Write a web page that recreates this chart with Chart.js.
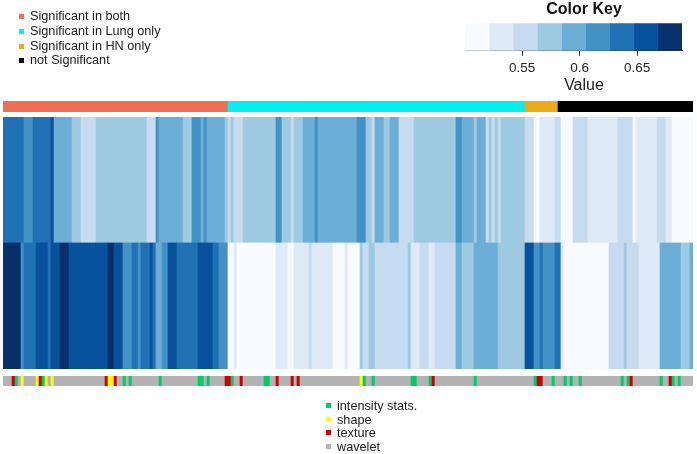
<!DOCTYPE html>
<html>
<head>
<meta charset="utf-8">
<title>Heatmap</title>
<script src="https://cdn.jsdelivr.net/npm/chart.js@4"></script>
<style>
    html, body { margin: 0; padding: 0; background: #fff; }
    body { position: relative; width: 697px; height: 454px; overflow: hidden; font-family: "Liberation Sans", Arial, sans-serif; color: #1a1a1a; }
    canvas { position: absolute; filter: blur(0.4px); }
    #group-bar { left: 3px; top: 101px; }
    #heatmap { left: 3px; top: 117px; }
    #class-bar { left: 3px; top: 376px; }
    #key { left: 445px; top: 0; }
    .legend { position: absolute; font-size: 12.7px; white-space: nowrap; filter: blur(0.3px); }
    .legend div { position: relative; height: 14.8px; line-height: 15px; }
    .legend i { position: absolute; width: 5px; height: 5px; top: 5px; }
    #legend-top { left: 30px; top: 9px; }
    #legend-top i { left: -11px; }
    #legend-bottom { left: 337px; top: 399px; }
    #legend-bottom div { height: 13.6px; }
    #legend-bottom i { left: -11px; top: 4px; }
</style>
</head>
<body>
<canvas id="group-bar"></canvas>
<canvas id="heatmap"></canvas>
<canvas id="class-bar"></canvas>
<canvas id="key"></canvas>
<div class="legend" id="legend-top"></div>
<div class="legend" id="legend-bottom"></div>

<script>
// Significance groups, in column order
const groupNames = ['Significant in both', 'Significant in Lung only', 'Significant in HN only', 'not Significant'];
const groupCounts = [75, 99, 11, 45];
const groupColors = ['#f06f55', '#00f0f0', '#ebab16', '#000000'];

// Heatmap values, 230 columns, ten per line
const topRow = [
    .64, .64, .64, .64, .64, .64, .64, .62, .62, .62,
    .64, .64, .64, .64, .64, .64, .66, .59, .59, .59,
    .59, .59, .59, .57, .57, .57, .55, .55, .55, .55,
    .55, .57, .57, .57, .57, .57, .57, .57, .57, .57,
    .57, .57, .57, .57, .57, .57, .57, .57, .55, .55,
    .55, .62, .59, .59, .59, .59, .59, .59, .59, .59,
    .57, .57, .57, .62, .62, .62, .59, .62, .59, .59,
    .59, .59, .59, .59, .57, .55, .57, .55, .55, .55,
    .57, .57, .57, .57, .57, .57, .57, .57, .57, .57,
    .57, .62, .62, .57, .57, .57, .55, .57, .57, .57,
    .59, .59, .59, .59, .62, .59, .59, .59, .59, .59,
    .59, .59, .59, .59, .59, .59, .59, .59, .62, .62,
    .62, .57, .57, .55, .59, .59, .59, .57, .57, .59,
    .59, .59, .55, .55, .55, .55, .55, .57, .57, .57,
    .57, .57, .57, .57, .57, .57, .57, .57, .57, .57,
    .57, .62, .62, .59, .59, .59, .59, .57, .59, .59,
    .59, .55, .57, .55, .57, .55, .57, .57, .57, .57,
    .57, .57, .57, .57, .55, .55, .55, .51, .51, .53,
    .53, .53, .53, .53, .55, .55, .51, .51, .51, .51,
    .55, .55, .55, .55, .55, .53, .53, .53, .53, .53,
    .53, .53, .53, .53, .53, .55, .55, .55, .55, .55,
    .51, .53, .53, .53, .53, .53, .53, .53, .55, .55,
    .55, .53, .53, .51, .51, .51, .51, .51, .51, .51
];
const bottomRow = [
    .68, .68, .68, .68, .68, .68, .62, .64, .64, .64,
    .64, .66, .66, .66, .66, .64, .66, .66, .66, .68,
    .68, .68, .66, .66, .66, .66, .66, .66, .66, .66,
    .66, .66, .66, .66, .66, .68, .68, .66, .66, .66,
    .62, .62, .62, .64, .64, .62, .64, .64, .64, .66,
    .64, .59, .59, .62, .62, .66, .66, .66, .64, .64,
    .64, .64, .64, .64, .64, .66, .66, .66, .66, .66,
    .64, .64, .62, .62, .62, .51, .51, .53, .51, .51,
    .51, .51, .51, .51, .51, .51, .51, .51, .51, .51,
    .51, .53, .53, .53, .53, .51, .51, .53, .53, .53,
    .53, .53, .55, .53, .53, .53, .53, .53, .53, .53,
    .51, .51, .51, .51, .53, .51, .51, .51, .51, .57,
    .55, .55, .57, .57, .55, .55, .55, .55, .55, .55,
    .55, .55, .55, .55, .55, .57, .53, .53, .53, .55,
    .55, .55, .53, .53, .55, .55, .55, .55, .55, .55,
    .55, .59, .59, .57, .57, .57, .57, .59, .59, .59,
    .59, .59, .59, .59, .59, .57, .57, .57, .57, .57,
    .57, .57, .57, .57, .66, .66, .66, .62, .62, .64,
    .62, .62, .62, .62, .64, .64, .53, .51, .51, .51,
    .51, .51, .51, .51, .51, .51, .51, .51, .51, .51,
    .51, .51, .55, .55, .55, .55, .55, .57, .55, .55,
    .55, .55, .53, .53, .53, .53, .53, .53, .53, .59,
    .59, .59, .59, .59, .59, .59, .57, .57, .57, .59
];

// Feature class of every column: I intensity stats, S shape, T texture, W wavelet
const featureClass = [
    'W','W','W','T','I','W','S','W','W','W',
    'W','S','T','I','S','W','S','W','W','W',
    'W','W','W','W','W','W','W','W','W','W',
    'W','W','W','W','T','S','S','T','W','W',
    'I','W','I','W','W','W','W','W','W','W',
    'W','W','I','W','W','W','W','W','W','W',
    'W','W','W','W','W','I','I','W','I','W',
    'W','W','W','W','T','T','I','W','W','T',
    'W','W','W','W','W','W','W','I','I','W',
    'W','T','W','W','W','W','T','W','T','W',
    'W','W','W','W','W','W','W','W','W','W',
    'W','W','W','W','W','W','W','W','W','S',
    'I','W','W','I','W','W','W','W','W','W',
    'W','W','W','W','W','W','I','I','W','W',
    'W','W','I','T','W','W','W','W','W','W',
    'W','W','W','W','W','W','W','I','W','W',
    'W','W','W','W','W','W','W','W','W','W',
    'W','W','W','W','W','W','W','I','T','T',
    'W','W','W','I','W','W','W','I','W','I',
    'W','W','I','W','W','W','W','W','W','W',
    'W','W','W','W','W','W','I','W','I','T',
    'W','W','W','W','W','W','W','W','W','I',
    'W','W','T','I','W','I','W','W','W','W'
];
const classCodes = ['I', 'S', 'T', 'W'];
const classNames = ['intensity stats.', 'shape', 'texture', 'wavelet'];
const classColors = ['#00cc66', '#ffff00', '#cc0000', '#b3b3b3'];

// Colour key
const keyBreaks = [.5004, .5214, .5423, .5633, .5843, .6052, .6262, .6472, .6681, .689];
const keyColors = ['#f7fbff', '#deebf7', '#c6dbef', '#9ecae1', '#6baed6', '#4292c6', '#2171b5', '#08519c', '#08306b'];
const keyTicks = [.55, .6, .65];

const columns = topRow.map((_, i) => i + 1);
const fontName = '"Liberation Sans", Arial, sans-serif';

// Same colour bins as the key
function valueColor(value) {
    for (let i = 0; i < keyColors.length; i++) {
        if (value < keyBreaks[i + 1]) return keyColors[i];
    }
    return keyColors[keyColors.length - 1];
}

function groupColumnColors() {
    const colors = [];
    groupCounts.forEach((count, g) => {
        for (let i = 0; i < count; i++) colors.push(groupColors[g]);
    });
    return colors;
}

// Strip of columns with all axes hidden, each dataset is one row
function createStrip(id, width, height, rowColors) {
    const canvas = document.getElementById(id);
    canvas.style.width = width + 'px';
    canvas.style.height = height + 'px';
    canvas.width = width;
    canvas.height = height;

    new Chart(canvas, {
        type: 'bar',
        data: {
            labels: columns,
            datasets: rowColors.map(colors => ({
                data: columns.map(() => 1),
                backgroundColor: colors,
                borderWidth: 0,
                barPercentage: 1,
                categoryPercentage: 1
            }))
        },
        options: {
            responsive: false,
            animation: false,
            layout: { padding: 0 },
            plugins: { legend: { display: false }, tooltip: { enabled: false }, title: { display: false } },
            scales: {
                x: { display: false, stacked: true },
                y: { display: false, stacked: true, min: 0, max: rowColors.length }
            }
        }
    });
}

// Empty side axis, only there to move the key inside its canvas so the titles sit right of its centre
function spacerAxis(position, width) {
    return {
        position: position,
        grid: { display: false },
        border: { display: false },
        ticks: { display: false },
        afterFit: axis => { axis.width = width; }
    };
}

function createKey() {
    const canvas = document.getElementById('key');
    canvas.style.width = '278px';
    canvas.style.height = '96px';
    canvas.width = 278;
    canvas.height = 96;

    new Chart(canvas, {
        type: 'bar',
        data: {
            labels: ['Value'],
            datasets: keyColors.map((color, i) => ({
                data: [[keyBreaks[i], keyBreaks[i + 1]]],
                backgroundColor: color,
                borderWidth: 0,
                barPercentage: 1,
                categoryPercentage: 1,
                grouped: false
            }))
        },
        options: {
            indexAxis: 'y',
            responsive: false,
            animation: false,
            layout: { padding: 0 },
            plugins: {
                legend: { display: false },
                tooltip: { enabled: false },
                title: {
                    display: true,
                    text: 'Color Key',
                    color: '#111',
                    font: { family: fontName, size: 16, weight: 'bold' },
                    padding: { top: 0, bottom: 4 }
                },
                subtitle: {
                    display: true,
                    position: 'bottom',
                    text: 'Value',
                    color: '#222',
                    font: { family: fontName, size: 16, weight: 'normal' },
                    padding: { top: 0, bottom: 1 }
                }
            },
            scales: {
                y: spacerAxis('left', 20),
                yRight: spacerAxis('right', 41),
                x: {
                    type: 'linear',
                    min: keyBreaks[0],
                    max: keyBreaks[keyBreaks.length - 1],
                    afterBuildTicks: axis => { axis.ticks = keyTicks.map(v => ({ value: v })); },
                    afterFit: axis => { axis.height = 25; },
                    border: { display: true, color: '#333', width: 1 },
                    grid: { drawOnChartArea: false, drawTicks: true, tickLength: 5, color: '#333' },
                    ticks: {
                        color: '#222',
                        padding: 4,
                        maxRotation: 0,
                        font: { family: fontName, size: 13.5 },
                        callback: v => String(v)
                    }
                }
            }
        }
    });
}

function createLegend(id, names, colors) {
    const box = document.getElementById(id);
    names.forEach((name, i) => {
        const row = document.createElement('div');
        const mark = document.createElement('i');
        mark.style.background = colors[i];
        row.appendChild(mark);
        row.appendChild(document.createTextNode(name));
        box.appendChild(row);
    });
}

createStrip('group-bar', 690, 11, [groupColumnColors()]);
createStrip('heatmap', 690, 252, [bottomRow.map(valueColor), topRow.map(valueColor)]);
createStrip('class-bar', 690, 10, [featureClass.map(c => classColors[classCodes.indexOf(c)])]);
createKey();
createLegend('legend-top', groupNames, groupColors);
createLegend('legend-bottom', classNames, classColors);
</script>
</body>
</html>
